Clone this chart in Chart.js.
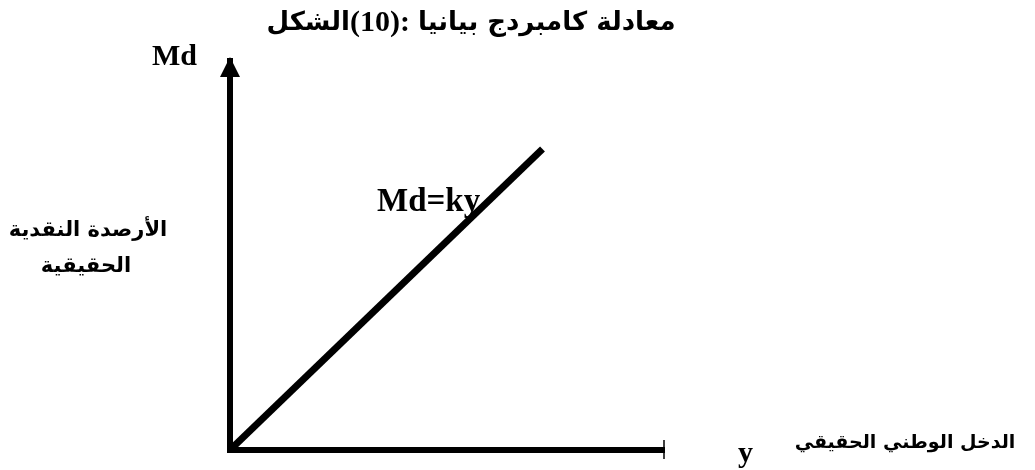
<!DOCTYPE html>
<html lang="ar">
<head>
<meta charset="utf-8">
<style>
  html, body { margin: 0; padding: 0; background: #fff; }
  #wrap { width: 1035px; height: 470px; position: relative; }
</style>
<script src="https://cdn.jsdelivr.net/npm/chart.js@4.4.1/dist/chart.umd.min.js"></script>
</head>
<body>
<div id="wrap"><canvas id="chart"></canvas></div>
<script>
// values
const lineX = [0, 7.2];
const lineY = [0, 7.74];
const axisMin = 0;
const axisMax = 10;

// texts
const titleParts = ['الشكل', '(10):', 'معادلة كامبردج بيانيا'];
const yName = 'Md';
const xName = 'y';
const yLabelLines = ['الأرصدة النقدية', 'الحقيقية'];
const xLabel = 'الدخل الوطني الحقيقي';
const lineLabel = 'Md=ky';

const arabicFont = '"DejaVu Sans", sans-serif';
const latinFont = '"Liberation Serif", "Times New Roman", serif';

// arrows, end tick and the free texts of the figure
const figureDecor = {
  id: 'figureDecor',
  afterDraw(chart) {
    const ctx = chart.ctx;
    const xs = chart.scales.x, ys = chart.scales.y;
    const x0 = xs.getPixelForValue(axisMin);
    const xEnd = xs.getPixelForValue(axisMax);
    const y0 = ys.getPixelForValue(axisMin);
    const yTop = ys.getPixelForValue(axisMax);

    ctx.save();
    ctx.fillStyle = '#000';
    ctx.strokeStyle = '#000';

    // arrow head on the vertical axis
    ctx.beginPath();
    ctx.moveTo(x0, yTop - 4);
    ctx.lineTo(x0 - 10, yTop + 16);
    ctx.lineTo(x0 + 10, yTop + 16);
    ctx.closePath();
    ctx.fill();

    // small bar at the end of the horizontal axis
    ctx.lineWidth = 1.5;
    ctx.beginPath();
    ctx.moveTo(xEnd, y0 - 10);
    ctx.lineTo(xEnd, y0 + 9);
    ctx.stroke();

    // title (word runs laid out like the original document)
    ctx.textBaseline = 'middle';
    ctx.textAlign = 'left';
    const fonts = ['bold 26px ' + arabicFont, 'bold 30px ' + latinFont, 'bold 26px ' + arabicFont];
    const gaps = [0, 8, 0];
    const widths = titleParts.map((t, i) => { ctx.font = fonts[i]; return ctx.measureText(t).width; });
    const total = widths.reduce((a, b) => a + b, 0) + gaps.reduce((a, b) => a + b, 0);
    let tx = 471 - total / 2;
    titleParts.forEach((t, i) => {
      ctx.font = fonts[i];
      ctx.direction = i === 1 ? 'ltr' : 'rtl';
      ctx.fillText(t, tx, 23);
      tx += widths[i] + gaps[i];
    });

    // Latin labels
    ctx.direction = 'ltr';
    ctx.textBaseline = 'alphabetic';
    ctx.font = 'bold 30px ' + latinFont;
    ctx.fillText(yName, 152, 65);
    ctx.fillText(xName, 738, 462);
    ctx.font = 'bold 33px ' + latinFont;
    ctx.fillText(lineLabel, 377, 211);

    // Arabic axis labels
    ctx.direction = 'rtl';
    ctx.textAlign = 'center';
    ctx.textBaseline = 'middle';
    ctx.font = 'bold 21px ' + arabicFont;
    ctx.fillText(yLabelLines[0], 88, 231);
    ctx.fillText(yLabelLines[1], 86, 267);
    ctx.font = 'bold 19px ' + arabicFont;
    ctx.fillText(xLabel, 905, 443);
    ctx.restore();
  }
};

const axisStyle = {
  type: 'linear',
  min: axisMin,
  max: axisMax,
  grid: { display: false, drawTicks: false },
  ticks: { display: false },
  border: { display: true, width: 6, color: '#000' }
};

new Chart(document.getElementById('chart'), {
  type: 'scatter',
  data: {
    datasets: [{
      data: lineX.map((x, i) => ({ x: x, y: lineY[i] })),
      showLine: true,
      borderColor: '#000',
      borderWidth: 7,
      pointRadius: 0,
      clip: false
    }]
  },
  options: {
    responsive: true,
    maintainAspectRatio: false,
    animation: false,
    layout: {
      padding: { left: 230, right: 371, top: 61, bottom: 20 }
    },
    scales: {
      x: axisStyle,
      y: axisStyle
    },
    plugins: {
      legend: { display: false },
      tooltip: { enabled: false }
    }
  },
  plugins: [figureDecor]
});
</script>
</body>
</html>
